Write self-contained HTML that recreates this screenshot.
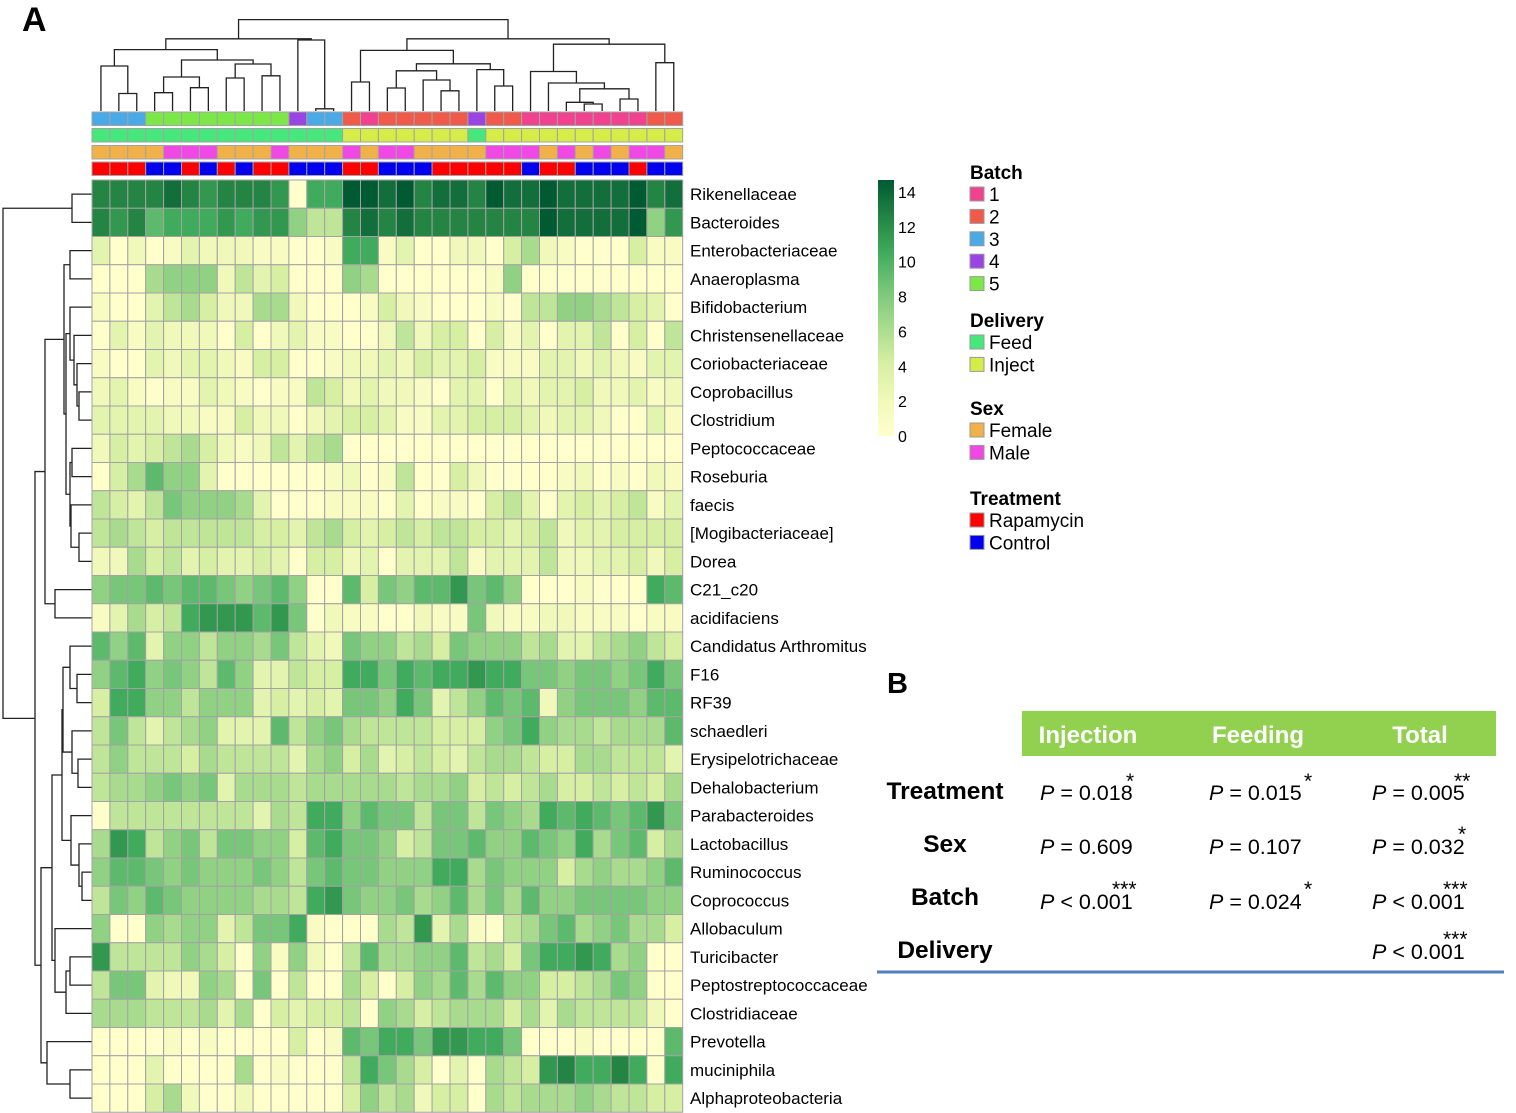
<!DOCTYPE html>
<html><head><meta charset="utf-8"><style>
html,body{margin:0;padding:0;background:#fff;}
svg{display:block;font-family:"Liberation Sans",Arial,sans-serif;}
</style></head><body>
<svg id="fig" width="1516" height="1113" viewBox="0 0 1516 1113" xmlns="http://www.w3.org/2000/svg">
<text x="22" y="31" font-size="34" font-weight="bold">A</text>
<g id="topDendro"></g>
<g id="leftDendro"></g>
<g id="annot"></g>
<g id="heat"></g>
<g id="rowLabels"></g>
<g id="cbar"></g>
<g id="legend"></g>

<g>
<text x="887" y="693" font-size="29" font-weight="bold">B</text>
<rect x="1022" y="711" width="474" height="45" fill="#92d050"/>
<g font-size="24" font-weight="bold" fill="#fff" text-anchor="middle">
<text x="1088" y="743">Injection</text>
<text x="1258" y="743">Feeding</text>
<text x="1420" y="743">Total</text>
</g>
<g font-size="24.5" font-weight="bold" text-anchor="middle">
<text x="945" y="799">Treatment</text>
<text x="945" y="852">Sex</text>
<text x="945" y="905">Batch</text>
<text x="945" y="958">Delivery</text>
</g>
<g font-size="21.5">
<text x="1040" y="800"><tspan font-style="italic">P</tspan> = 0.018</text>
<text x="1209" y="800"><tspan font-style="italic">P</tspan> = 0.015</text>
<text x="1372" y="800"><tspan font-style="italic">P</tspan> = 0.005</text>
<text x="1040" y="854"><tspan font-style="italic">P</tspan> = 0.609</text>
<text x="1209" y="854"><tspan font-style="italic">P</tspan> = 0.107</text>
<text x="1372" y="854"><tspan font-style="italic">P</tspan> = 0.032</text>
<text x="1040" y="909"><tspan font-style="italic">P</tspan> &lt; 0.001</text>
<text x="1209" y="909"><tspan font-style="italic">P</tspan> = 0.024</text>
<text x="1372" y="909"><tspan font-style="italic">P</tspan> &lt; 0.001</text>
<text x="1372" y="959"><tspan font-style="italic">P</tspan> &lt; 0.001</text>
</g>
<g font-size="21">
<text x="1126" y="788">*</text>
<text x="1304" y="788">*</text>
<text x="1454" y="788">**</text>
<text x="1458" y="841">*</text>
<text x="1112" y="896">***</text>
<text x="1304" y="896">*</text>
<text x="1443" y="896">***</text>
<text x="1443" y="946">***</text>
</g>
<line x1="877" y1="972" x2="1504" y2="972" stroke="#4f81bd" stroke-width="3"/>
</g>
</svg>
<script>
const rowNames=["Rikenellaceae","Bacteroides","Enterobacteriaceae","Anaeroplasma","Bifidobacterium","Christensenellaceae","Coriobacteriaceae","Coprobacillus","Clostridium","Peptococcaceae","Roseburia","faecis","[Mogibacteriaceae]","Dorea","C21_c20","acidifaciens","Candidatus Arthromitus","F16","RF39","schaedleri","Erysipelotrichaceae","Dehalobacterium","Parabacteroides","Lactobacillus","Ruminococcus","Coprococcus","Allobaculum","Turicibacter","Peptostreptococcaceae","Clostridiaceae","Prevotella","muciniphila","Alphaproteobacteria"];
const batch=[3,3,3,5,5,5,5,5,5,5,5,4,3,3,2,1,2,2,2,2,2,4,2,2,1,1,1,1,1,1,1,2,2];
const delivery=["F","F","F","F","F","F","F","F","F","F","F","F","F","F","I","I","I","I","I","I","I","F","I","I","I","I","I","I","I","I","I","I","I"];
const sex=["F","F","F","F","M","M","M","F","F","F","M","F","F","F","M","F","M","M","F","F","F","F","M","M","M","F","M","F","M","F","M","M","F"];
const treatment=["R","R","R","C","C","R","C","R","C","R","R","C","C","C","R","R","C","C","C","R","R","R","R","R","C","R","R","C","C","C","R","C","C"];
const values=[
[12,12,12,12,13,12,11,12,12,12,11,0,10,10,14,14,13, 14,12,13,13,12,14,13,13,14,13,13,13,13,14,12,13],
[12,11,12,9,10,10,10,11,10,11,11,7,5,5,12,13,12, 13,12,12,12,12,12,12,12,14,13,13,13,13,14,7,11],
[3,0,2,0,1,3,2,2,2,1,1,0,0,1,10,10,1, 3,0,0,2,2,0,4,6,2,1,0,0,0,4,1,1],
[0,0,0,6,7,7,7,2,5,3,4,0,0,0,7,6,0, 0,0,0,0,0,1,7,0,0,0,0,0,0,0,0,0],
[1,0,0,3,5,6,4,2,2,6,6,2,0,0,0,1,4, 2,1,0,0,0,1,0,5,5,7,7,6,5,4,3,0],
[0,3,1,3,2,2,2,0,4,0,2,3,1,1,0,0,2, 5,2,4,4,0,4,1,3,0,3,3,5,0,4,0,5],
[1,0,0,3,2,3,3,2,1,4,4,0,0,1,2,2,3, 2,4,3,3,4,1,1,1,3,3,2,3,2,1,3,3],
[2,3,1,0,1,1,3,2,1,0,1,1,5,4,2,3,2, 2,1,0,3,3,0,3,2,3,3,4,2,2,3,1,2],
[3,3,3,3,2,2,1,1,4,2,2,0,2,3,4,4,3, 1,1,3,3,4,4,4,3,2,3,3,2,0,0,3,1],
[2,4,3,4,5,6,4,2,1,2,5,3,5,6,0,0,0, 0,0,0,0,0,0,0,0,0,0,0,0,0,0,0,0],
[0,4,6,9,7,7,3,0,0,0,0,0,0,1,2,0,1, 5,0,0,4,2,0,0,0,0,1,2,0,1,0,2,1],
[5,4,3,5,8,7,7,7,6,3,0,0,0,1,1,1,0, 3,0,1,1,0,4,5,3,0,3,4,3,4,5,1,3],
[5,6,5,4,5,5,5,5,5,4,4,3,5,6,4,3,4, 5,4,5,5,4,4,3,4,5,2,3,3,4,4,4,4],
[2,2,6,4,5,3,4,3,3,4,3,0,4,4,2,3,0, 3,3,3,5,1,3,3,3,5,2,2,3,3,4,2,4],
[7,8,8,9,8,9,9,8,7,8,9,7,0,0,9,4,8, 7,9,9,11,8,9,7,0,0,0,1,0,0,0,10,9],
[1,3,6,4,5,10,11,11,11,9,11,8,0,2,1,1,0, 0,2,1,1,8,2,1,1,2,2,1,1,1,0,1,1],
[9,7,9,3,7,7,5,7,7,6,8,5,3,2,8,7,7, 5,6,4,8,7,7,7,5,6,3,3,5,6,7,5,4],
[7,9,10,7,8,7,5,9,7,3,3,5,4,4,10,10,8, 10,9,10,10,11,10,10,8,8,7,8,8,7,8,10,8],
[4,10,10,7,7,5,7,7,7,3,4,3,4,3,8,8,7, 10,8,3,5,7,9,8,9,2,7,8,8,8,7,9,9],
[5,8,5,3,5,6,7,3,3,3,9,5,7,8,6,5,5, 5,5,4,4,4,7,8,10,7,6,6,5,6,6,6,9],
[5,7,5,5,5,4,6,5,5,5,5,3,6,7,4,6,3, 4,5,4,3,5,6,6,5,4,4,6,6,5,5,5,3],
[5,6,6,7,8,7,8,3,6,6,6,5,6,6,6,6,6, 5,6,6,7,4,5,4,5,6,4,4,5,4,5,4,6],
[0,5,5,5,5,5,5,5,5,3,6,5,10,10,7,9,8, 8,5,8,8,5,8,7,6,10,9,10,9,8,9,11,8],
[6,11,10,5,7,8,5,8,8,7,7,4,9,10,8,8,7, 4,5,8,8,9,7,7,9,8,7,10,6,8,9,4,6],
[7,9,9,8,7,8,7,7,7,8,7,5,8,9,8,8,7, 7,7,10,10,6,8,7,7,7,4,6,7,6,6,7,9],
[5,8,7,9,8,7,7,7,7,6,6,5,10,11,8,7,7, 8,6,7,9,6,8,6,9,7,7,8,8,8,8,7,7],
[7,0,0,7,6,7,7,3,5,8,8,10,1,0,0,0,6, 5,11,3,6,1,0,5,6,8,9,6,7,8,6,6,4],
[11,5,5,5,5,7,6,4,0,7,1,7,2,0,5,9,6, 6,7,7,9,5,6,4,8,10,10,11,10,6,7,0,0],
[5,8,8,3,2,2,7,6,0,8,0,5,0,0,6,4,0, 4,7,6,9,6,9,7,7,4,4,5,6,8,7,0,0],
[6,6,6,5,5,5,6,3,6,0,4,3,4,4,5,0,7, 6,4,5,6,6,6,4,6,3,6,5,5,5,5,2,0],
[0,0,0,0,1,0,1,0,0,0,0,4,0,1,9,8,10, 10,8,11,11,10,10,8,0,0,0,1,0,0,0,0,9],
[0,0,0,3,0,0,0,0,6,0,1,0,0,0,5,10,8, 6,4,0,3,0,6,5,4,11,12,10,10,12,10,0,10],
[0,0,0,4,6,2,0,0,2,0,0,0,0,0,4,7,5, 6,2,4,4,0,6,5,6,6,6,7,6,5,5,4,4]
];
const scaleTicks=[0,2,4,6,8,10,12,14];
const batchLevels=["1","2","3","4","5"];
const colTree=[19.6,[38.8,[49.6,[66,0,[93.5,1,2]],[60,[77,[92.7,3,4],[87.7,5,6]],[64,[78,7,8],[75.8,9,10]]]],[40,11,[108.8,12,13]]],
 [38.8,[50.4,[82,14,15],[63.8,[70.8,[88,16,17],[80,18,[90.8,19,20]]],[69.6,21,[86,22,23]]]],
 [44.2,[71.5,24,[83,25,[88.8,[102.3,26,[104,27,28]],[99,29,30]]]],[62.7,31,32]]]];
const rowTree=[3,[72,0,1],[35,[45,[64,[70,2,3],[66,[70,4,[74,5,[77,6,[79,7,8]]]],[70,[72,9,10],[71,11,[79,12,13]]]]],[55,14,15]],
 [41,[52,[62,[63,[70,16,[77,17,18]],[72,19,[78,20,21]]],[71,22,[79,23,[82,24,25]]]],[55,26,[66,[70,27,28],29]]],[47,30,[70,31,32]]]]];

const NS="http://www.w3.org/2000/svg";
function mk(tag,attrs,parent){const e=document.createElementNS(NS,tag);for(const k in attrs)e.setAttribute(k,attrs[k]);parent.appendChild(e);return e;}
const X0=92,CW=17.9,Y0=180,RH=28.25;
const colX=i=>X0+i*CW, rowY=i=>Y0+i*RH;
const stops=[[0,[255,255,204]],[2,[240,249,185]],[4,[214,239,163]],[6,[168,219,142]],[8,[120,198,121]],[10,[65,171,93]],[12,[35,132,67]],[14,[0,90,50]]];
function color(v){v=Math.max(0,Math.min(14,v));for(let i=1;i<stops.length;i++){if(v<=stops[i][0]){const a=stops[i-1],b=stops[i],t=(v-a[0])/(b[0]-a[0]);const c=a[1].map((x,j)=>Math.round(x+(b[1][j]-x)*t));return `rgb(${c})`;}}return "rgb(0,90,50)";}
const heat=document.getElementById('heat');
values.forEach((row,r)=>row.forEach((v,c)=>{
 const el=mk('rect',{x:colX(c),y:rowY(r),width:CW,height:RH,fill:color(v),stroke:'#a3a3a3','stroke-width':1},heat);
 
 
}));
const rl=document.getElementById('rowLabels');
rowNames.forEach((n,r)=>{const t=mk('text',{x:690,y:rowY(r)+RH/2+6,'font-size':17},rl);t.textContent=n;
 
 });
const bCol={"1":"#f0428f","2":"#f05a4a","3":"#4aaae8","4":"#9b44e4","5":"#7ce848"};
const dCol={F:"#46e87c",I:"#d6ec48"},sCol={F:"#f0b248",M:"#f048e4"},tCol={R:"#ff0000",C:"#0000ee"};
const an=document.getElementById('annot');
const annRows=[[batch.map(b=>bCol[b]),112,'batch-cell'],[delivery.map(d=>dCol[d]),128.5,'delivery-cell'],[sex.map(s=>sCol[s]),145.5,'sex-cell'],[treatment.map(t=>tCol[t]),162,'treatment-cell']];
annRows.forEach(([cols,y,nm])=>cols.forEach((c,i)=>{const e=mk('rect',{x:colX(i),y:y,width:CW,height:13.5,fill:c,stroke:'#a3a3a3','stroke-width':1},an);
 
 }));
function drawTree(node,g,orient){
 if(typeof node==='number'){const c=orient==='top'?colX(node)+CW/2:rowY(node)+RH/2;return {c:c,h:orient==='top'?111:92};}
 const a=drawTree(node[1],g,orient),b=drawTree(node[2],g,orient),h=node[0];
 let d;
 if(orient==='top')d=`M${a.c},${a.h}V${h}H${b.c}V${b.h}`;else d=`M${a.h},${a.c}H${h}V${b.c}H${b.h}`;
 const p=mk('path',{d:d,fill:'none',stroke:'#222','stroke-width':1.3},g);
 
 
 return {c:(a.c+b.c)/2,h:h};
}
drawTree(colTree,document.getElementById('topDendro'),'top');
drawTree(rowTree,document.getElementById('leftDendro'),'left');
const cb=document.getElementById('cbar');
const cbTop=180,cbBot=436,cbY=v=>436-(v/14)*(436-192);
const defs=mk('defs',{},cb);const lg=mk('linearGradient',{id:'g1',x1:0,y1:1,x2:0,y2:0},defs);
stops.forEach(s=>mk('stop',{offset:s[0]/14,'stop-color':color(s[0])},lg));
const cr=mk('rect',{x:878,y:cbTop,width:16,height:cbBot-cbTop,fill:'url(#g1)'},cb);


scaleTicks.forEach(v=>{const t=mk('text',{x:898,y:cbY(v)+6,'font-size':16},cb);t.textContent=v;
 
 });
const lgG=document.getElementById('legend');
const groups=[["Batch",172,batchLevels.map(b=>[b,bCol[b]])],["Delivery",320,[["Feed",dCol.F],["Inject",dCol.I]]],["Sex",408,[["Female",sCol.F],["Male",sCol.M]]],["Treatment",498,[["Rapamycin",tCol.R],["Control",tCol.C]]]];
groups.forEach(([title,y,items])=>{
 const t=mk('text',{x:970,y:y+7,'font-size':19,'font-weight':'bold'},lgG);t.textContent=title;
 
 
 items.forEach((it,k)=>{const yy=y+15+k*22.4;
  const r=mk('rect',{x:970,y:yy,width:14,height:14,fill:it[1],stroke:'#999','stroke-width':1},lgG);
  
  
  const tx=mk('text',{x:989,y:yy+14,'font-size':19},lgG);tx.textContent=it[0];
  
  });
});
</script>
</body></html>
